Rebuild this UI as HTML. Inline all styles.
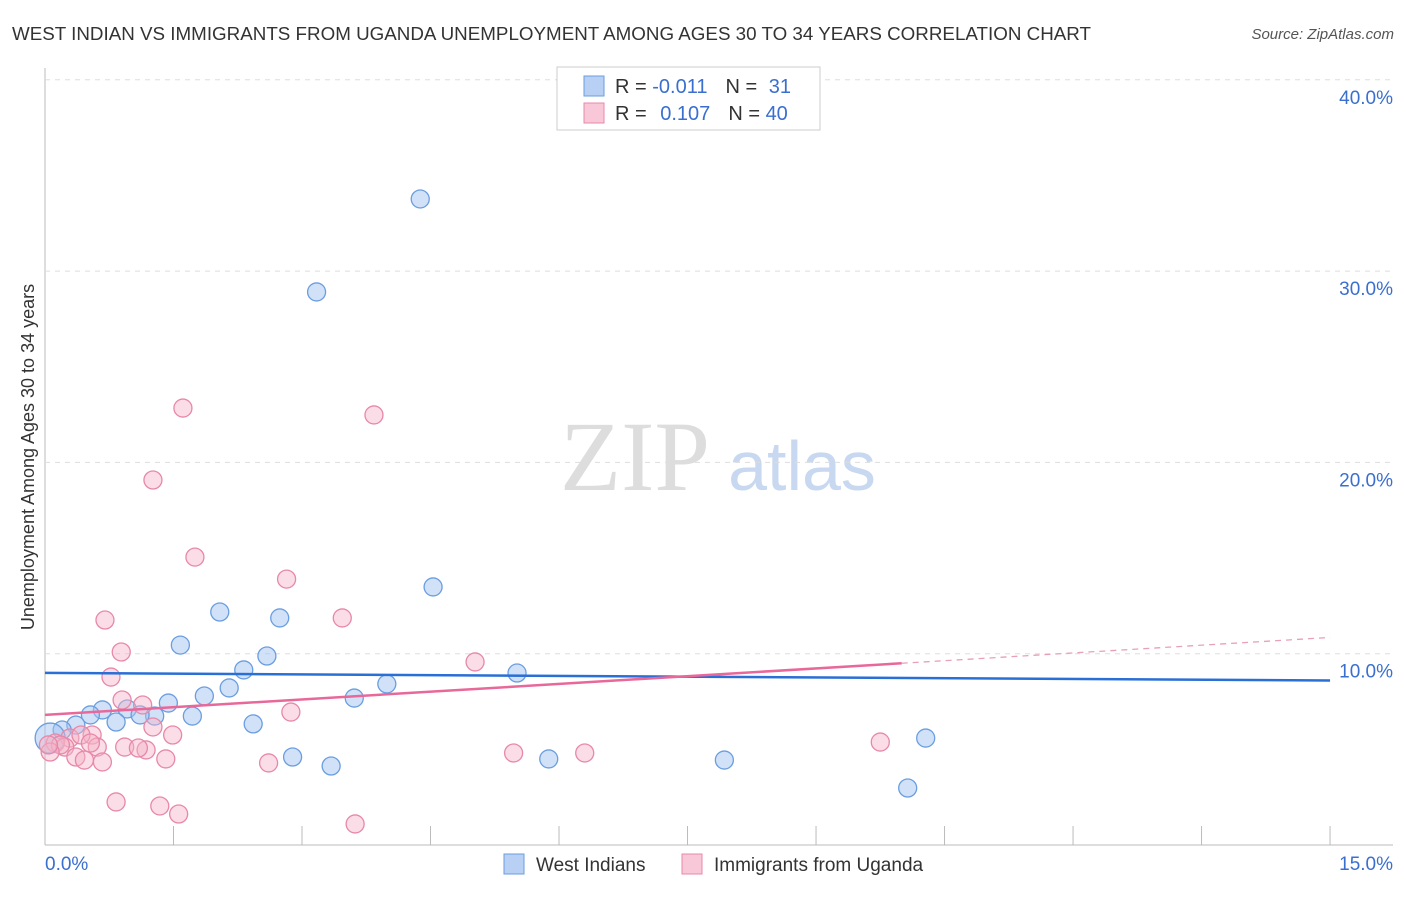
<!DOCTYPE html>
<html><head><meta charset="utf-8"><style>
body{margin:0;background:#fff;font-family:"Liberation Sans",sans-serif}
</style></head><body>
<svg id="c" width="1406" height="892" font-family="Liberation Sans, sans-serif">
<text x="12" y="40" font-size="18" fill="#333" textLength="1079" lengthAdjust="spacingAndGlyphs">WEST INDIAN VS IMMIGRANTS FROM UGANDA UNEMPLOYMENT AMONG AGES 30 TO 34 YEARS CORRELATION CHART</text>
<text x="1394" y="39" font-size="15" fill="#555" text-anchor="end" font-style="italic">Source: ZipAtlas.com</text>
<text x="635" y="490" font-size="100" fill="#ddd" style="font-family:'Liberation Serif',serif" text-anchor="middle">ZIP</text>
<text x="802" y="490" font-size="70" fill="#c8d8f0" text-anchor="middle">atlas</text>
<text transform="translate(34,457) rotate(-90)" font-size="18" fill="#333" text-anchor="middle">Unemployment Among Ages 30 to 34 years</text>
<g id="grid"></g><g id="pts"></g><g id="lines"></g>
<g>
<rect x="557" y="67" width="263" height="63" fill="#fff" stroke="#ccc"/>
<rect x="584" y="76" width="20" height="20" fill="#b8d0f4" stroke="#6a9ee0"/>
<rect x="584" y="103" width="20" height="20" fill="#f8c8d8" stroke="#e888a8"/>
<text x="615" y="93" font-size="20" fill="#333">R = <tspan fill="#3a6fd0">-0.011</tspan><tspan dx="18" fill="#333">N = </tspan><tspan fill="#3a6fd0" dx="6">31</tspan></text>
<text x="615" y="120" font-size="20" fill="#333">R = <tspan fill="#3a6fd0" dx="8">0.107</tspan><tspan dx="18" fill="#333">N = </tspan><tspan fill="#3a6fd0">40</tspan></text>
</g>
<g>
<rect x="504" y="854" width="20" height="20" fill="#b8d0f4" stroke="#6a9ee0"/>
<text x="536" y="871" font-size="19" fill="#333">West Indians</text>
<rect x="682" y="854" width="20" height="20" fill="#f8c8d8" stroke="#e888a8"/>
<text x="714" y="871" font-size="19" fill="#333">Immigrants from Uganda</text>
</g>
</svg>
<script>
const xTicks=[0,1.5,3,4.5,6,7.5,9,10.5,12,13.5,15];
const yTicks=[10,20,30,40];
const blueX=[4.38,3.17,4.53,2.04,2.74,1.58,2.59,2.32,5.51,3.99,2.15,1.86,3.61,1.44,0.96,0.67,0.53,1.28,1.11,1.72,0.83,2.43,0.36,0.20,0.06,10.28,2.89,5.88,7.93,3.34,10.07];
const blueY=[33.77,28.91,13.49,12.18,11.87,10.45,9.88,9.15,8.99,8.42,8.21,7.79,7.68,7.42,7.11,7.06,6.80,6.74,6.80,6.74,6.43,6.33,6.27,6.01,5.59,5.59,4.60,4.50,4.44,4.13,2.98];
const pinkX=[1.61,3.84,1.26,1.75,2.82,3.47,0.70,0.89,5.02,0.77,0.90,1.14,2.87,1.49,1.26,0.55,0.29,0.42,0.12,0.23,0.18,0.61,0.93,1.18,1.09,0.06,0.36,0.46,0.67,1.41,2.61,5.47,6.30,9.75,0.83,1.34,1.56,3.62,0.04,0.53];
const pinkY=[22.84,22.48,19.08,15.05,13.90,11.87,11.76,10.09,9.57,8.78,7.58,7.32,6.95,5.75,6.17,5.75,5.59,5.75,5.33,5.12,5.23,5.12,5.12,4.97,5.07,4.86,4.60,4.44,4.34,4.50,4.29,4.81,4.81,5.38,2.25,2.04,1.62,1.10,5.23,5.33];
const blueTrend=[9.0,8.6];
const pinkTrend=[6.8,9.5,10.85];
const sx=v=>45+v*85.67, sy=v=>845-v*19.13;
const NS="http://www.w3.org/2000/svg";
function mk(p,t,a){const e=document.createElementNS(NS,t);for(const k in a)e.setAttribute(k,a[k]);p.appendChild(e);return e;}
const g=document.getElementById('grid');
let ax=mk(g,'line',{x1:45,y1:68,x2:45,y2:845,stroke:'#bbb'});


let bx=mk(g,'line',{x1:45,y1:845,x2:1393,y2:845,stroke:'#bbb'});


yTicks.forEach(v=>{
 const l=mk(g,'line',{x1:45,y1:sy(v),x2:1393,y2:sy(v),stroke:'#ddd','stroke-dasharray':'5,5'});
 
 
 const t=mk(g,'text',{x:1393,y:sy(v)+24,'font-size':19,fill:'#3a6fd0','text-anchor':'end'});
 t.textContent=v.toFixed(1)+'%';
 
 
});
xTicks.forEach((v,i)=>{
 if(i===0)return;
 const l=mk(g,'line',{x1:sx(v),y1:826,x2:sx(v),y2:845,stroke:'#bbb'});
 
 
});
[[0,'start',45],[15,'end',1393]].forEach(([v,a,x])=>{
 const t=mk(g,'text',{x:x,y:870,'font-size':19,fill:'#3a6fd0','text-anchor':a});
 t.textContent=v.toFixed(1)+'%';
 
 
});
const p=document.getElementById('pts');
blueX.forEach((x,i)=>{
 const c=mk(p,'circle',{cx:sx(x),cy:sy(blueY[i]),r:i===24?15:9,fill:'rgba(164,196,240,0.5)',stroke:'#6a9ee0','stroke-width':1.3});
 
 
});
pinkX.forEach((x,i)=>{
 const c=mk(p,'circle',{cx:sx(x),cy:sy(pinkY[i]),r:9,fill:'rgba(245,180,200,0.45)',stroke:'#e888a8','stroke-width':1.3});
 
 
});
const L=document.getElementById('lines');
let b=mk(L,'line',{x1:sx(0),y1:sy(blueTrend[0]),x2:sx(15),y2:sy(blueTrend[1]),stroke:'#2a6fd6','stroke-width':2.5});


let pk=mk(L,'line',{x1:sx(0),y1:sy(pinkTrend[0]),x2:sx(10),y2:sy(pinkTrend[1]),stroke:'#e8689a','stroke-width':2.5});


let pd=mk(L,'line',{x1:sx(10),y1:sy(pinkTrend[1]),x2:sx(15),y2:sy(pinkTrend[2]),stroke:'#e8a0b8','stroke-width':1.3,'stroke-dasharray':'6,5'});


</script>
</body></html>
